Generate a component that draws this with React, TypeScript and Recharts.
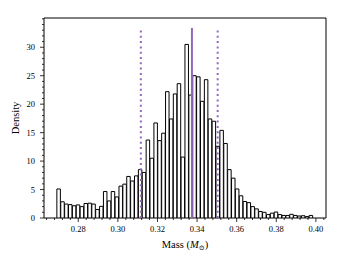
import React from 'react';
import { BarChart, Bar, XAxis, YAxis, ReferenceLine, ReferenceArea } from 'recharts';

// histogram bins: left edge of the first bin and the common bin width
const BIN_START = 0.2692;
const BIN_WIDTH = 0.00196;

// density of each bin
const DENSITY = [
  5.1, 2.85, 2.45, 2.35, 2.15, 2.3, 2.0, 2.55, 2.6, 2.45,
  1.5, 2.05, 4.65, 3.0, 4.65, 3.7, 5.6, 5.95, 7.3, 6.5,
  7.4, 8.5, 8.0, 13.7, 10.5, 16.7, 13.6, 14.9, 22.2, 17.4,
  21.8, 23.6, 10.7, 30.5, 21.6, 25.0, 24.8, 20.5, 24.3, 17.4,
  17.0, 12.6, 15.4, 13.1, 8.5, 7.0, 5.1, 3.9, 2.9, 2.7,
  2.0, 1.6, 1.15, 1.0, 0.6, 0.85, 1.05, 0.6, 0.45, 0.45,
  0.65, 0.45, 0.35, 0.4, 0.25, 0.45,
];

// 16th / 50th / 84th percentiles and the height of their markers
const P16 = 0.3116;
const P50 = 0.3374;
const P84 = 0.3504;
const MARKER_TOP = 33.4;

const X_DOMAIN = [0.2627, 0.4051];
const Y_DOMAIN = [0, 35.14];

const X_MAJOR = [0.28, 0.3, 0.32, 0.34, 0.36, 0.38, 0.4];
const X_MINOR = [
  0.264, 0.268, 0.272, 0.276, 0.284, 0.288, 0.292, 0.296, 0.304, 0.308,
  0.312, 0.316, 0.324, 0.328, 0.332, 0.336, 0.344, 0.348, 0.352, 0.356,
  0.364, 0.368, 0.372, 0.376, 0.384, 0.388, 0.392, 0.396, 0.404,
];
const Y_MAJOR = [0, 5, 10, 15, 20, 25, 30];
const Y_MINOR = [
  1, 2, 3, 4, 6, 7, 8, 9, 11, 12, 13, 14, 16, 17, 18, 19,
  21, 22, 23, 24, 26, 27, 28, 29, 31, 32, 33, 34, 35,
];

const data = DENSITY.map((d, i) => ({ center: BIN_START + (i + 0.5) * BIN_WIDTH, density: d }));

const W = 345;
const H = 259;
const MARGIN = { top: 18, right: 19, left: 0, bottom: 0 };
const Y_AXIS_W = 44;
const X_AXIS_H = 41;
const PLOT_W = W - Y_AXIS_W - MARGIN.left - MARGIN.right;
const BAR_PX = (BIN_WIDTH / (X_DOMAIN[1] - X_DOMAIN[0])) * PLOT_W;

const FONT = "'Liberation Serif', 'DejaVu Serif', serif";
const PURPLE = '#9467bd';
const TICK_SIZE = 4;
const X_TICK_MARGIN = 4;
const Y_TICK_MARGIN = 5;

const isMajor = (list: number[], v: number) => list.some((m) => Math.abs(m - v) < 1e-9);

const XTick = (props: any) => {
  const { x, y, payload } = props;
  const major = isMajor(X_MAJOR, payload.value);
  const y0 = y - TICK_SIZE - X_TICK_MARGIN;
  return (
    <g>
      <line x1={x} x2={x} y1={y0} y2={y0 + (major ? 4 : 2)} stroke="#000" strokeWidth={0.8} />
      {major && (
        <text x={x} y={y} dy="0.71em" textAnchor="middle" fontFamily={FONT} fontSize={8.5} fill="#000">
          {payload.value.toFixed(2)}
        </text>
      )}
    </g>
  );
};

const YTick = (props: any) => {
  const { x, y, payload } = props;
  const major = isMajor(Y_MAJOR, payload.value);
  const x0 = x + TICK_SIZE + Y_TICK_MARGIN;
  return (
    <g>
      <line x1={x0 - (major ? 4 : 2)} x2={x0} y1={y} y2={y} stroke="#000" strokeWidth={0.8} />
      {major && (
        <text x={x} y={y} dy="0.35em" textAnchor="end" fontFamily={FONT} fontSize={8.5} fill="#000">
          {payload.value}
        </text>
      )}
    </g>
  );
};

const MassLabel = (props: any) => {
  const { x, y, width } = props.viewBox;
  return (
    <text x={x + width / 2} y={y + 30} textAnchor="middle" fontFamily={FONT} fontSize={10.5} fill="#000">
      Mass (<tspan fontStyle="italic">M</tspan>
      <tspan fontSize={7} dy={2}>⊙</tspan>
      <tspan dy={-2}>)</tspan>
    </text>
  );
};

const DensityLabel = (props: any) => {
  const { y, height } = props.viewBox;
  const cx = 15;
  const cy = y + height / 2;
  return (
    <text
      x={cx}
      y={cy}
      transform={`rotate(-90, ${cx}, ${cy})`}
      textAnchor="middle"
      dominantBaseline="central"
      fontFamily={FONT}
      fontSize={10.5}
      fill="#000"
    >
      Density
    </text>
  );
};

export default function App() {
  return (
    <div style={{ position: 'absolute', top: 0, left: 0, background: '#fff' }}>
      <BarChart width={W} height={H} data={data} margin={MARGIN} barCategoryGap={0} barGap={0}>
        <XAxis
          type="number"
          dataKey="center"
          domain={X_DOMAIN}
          ticks={[...X_MAJOR, ...X_MINOR].sort((a, b) => a - b)}
          interval={0}
          height={X_AXIS_H}
          axisLine={false}
          tickLine={false}
          tickSize={TICK_SIZE}
          tickMargin={X_TICK_MARGIN}
          tick={XTick}
          allowDataOverflow
          label={<MassLabel />}
        />
        <YAxis
          type="number"
          domain={Y_DOMAIN}
          ticks={[...Y_MAJOR, ...Y_MINOR].sort((a, b) => a - b)}
          interval={0}
          width={Y_AXIS_W}
          axisLine={false}
          tickLine={false}
          tickSize={TICK_SIZE}
          tickMargin={Y_TICK_MARGIN}
          tick={YTick}
          allowDataOverflow
          label={<DensityLabel />}
        />
        <Bar
          dataKey="density"
          fill="#fff"
          stroke="#000"
          strokeWidth={1}
          barSize={BAR_PX}
          isAnimationActive={false}
        />
        <ReferenceLine
          segment={[{ x: P16, y: 0 }, { x: P16, y: MARKER_TOP }]}
          stroke={PURPLE}
          strokeWidth={2}
          strokeDasharray="2 3.3"
        />
        <ReferenceLine
          segment={[{ x: P84, y: 0 }, { x: P84, y: MARKER_TOP }]}
          stroke={PURPLE}
          strokeWidth={2}
          strokeDasharray="2 3.3"
        />
        <ReferenceLine
          segment={[{ x: P50, y: 0 }, { x: P50, y: MARKER_TOP }]}
          stroke={PURPLE}
          strokeWidth={2}
        />
        <ReferenceArea
          x1={X_DOMAIN[0]}
          x2={X_DOMAIN[1]}
          y1={Y_DOMAIN[0]}
          y2={Y_DOMAIN[1]}
          fill="none"
          stroke="#000"
          strokeWidth={1}
          ifOverflow="visible"
        />
      </BarChart>
    </div>
  );
}
